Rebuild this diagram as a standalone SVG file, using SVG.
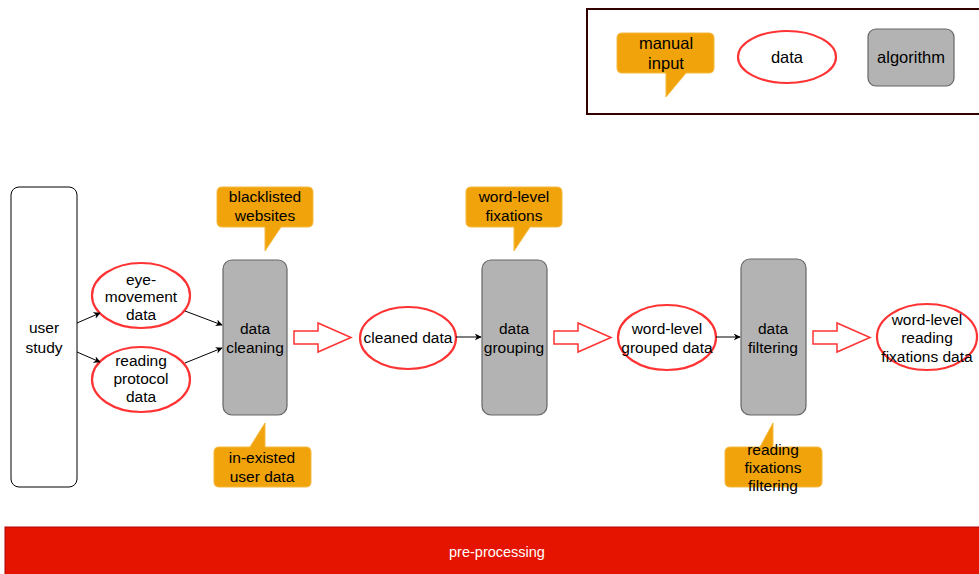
<svg xmlns="http://www.w3.org/2000/svg" width="979" height="574" viewBox="0 0 979 574">
<defs>
<style>
text{font-family:"Liberation Sans",Arial,sans-serif;font-size:15.5px;fill:#000;text-anchor:middle}
.lg{font-size:16.5px}
.data{fill:#fff;stroke:#FF3333;stroke-width:2.2}
.alg{fill:#B3B3B3;stroke:#666;stroke-width:1.2}
.call{fill:#F0A30A;stroke:#F5B940;stroke-width:1}
.conn{stroke:#000;stroke-width:1;fill:none}
.big{fill:#fff;stroke:#FF3333;stroke-width:1.5}
</style>
<marker id="ah" viewBox="0 0 10 10" refX="9" refY="5" markerWidth="7" markerHeight="7" orient="auto" markerUnits="userSpaceOnUse">
<path d="M0,0 L10,5 L0,10 L3,5 Z" fill="#000"/>
</marker>
</defs>
<rect width="979" height="574" fill="#fff"/>

<g id="legend">
<rect x="587" y="9" width="396" height="105" fill="#fff" stroke="#330000" stroke-width="2"/>
<path class="call" d="M622,33 H709 Q714,33 714,38 V68 Q714,73 709,73 H686 L666,97 V73 H622 Q617,73 617,68 V38 Q617,33 622,33 Z"/>
<text class="lg" x="666" y="49">manual</text>
<text class="lg" x="666" y="69">input</text>
<ellipse class="data" cx="787" cy="57" rx="49" ry="26"/>
<text class="lg" x="787" y="63">data</text>
<rect class="alg" x="868" y="29" width="86" height="57" rx="8"/>
<text class="lg" x="911" y="63">algorithm</text>
</g>

<g id="user-study">
<rect x="11" y="187" width="66" height="300" rx="8" fill="#fff" stroke="#000" stroke-width="1"/>
<text x="44" y="333">user</text>
<text x="44" y="353">study</text>
</g>

<g id="eye-movement-data">
<ellipse class="data" cx="141" cy="295.5" rx="49" ry="32.5"/>
<text x="141" y="285">eye-</text>
<text x="141" y="302">movement</text>
<text x="141" y="320">data</text>
</g>

<g id="reading-protocol-data">
<ellipse class="data" cx="141" cy="379.5" rx="49" ry="32.5"/>
<text x="141" y="366">reading</text>
<text x="141" y="384">protocol</text>
<text x="141" y="402">data</text>
</g>

<g id="blacklisted-websites">
<path class="call" d="M222,187 H308 Q313,187 313,192 V222 Q313,227 308,227 H281 L265,251 V227 H222 Q217,227 217,222 V192 Q217,187 222,187 Z"/>
<text x="265" y="202">blacklisted</text>
<text x="265" y="221">websites</text>
</g>

<g id="data-cleaning">
<rect class="alg" x="223" y="260" width="64" height="155" rx="9"/>
<text x="255" y="334">data</text>
<text x="255" y="353">cleaning</text>
</g>

<g id="in-existed-user-data">
<path class="call" d="M219,447 H250 L265,423 V447 H306 Q311,447 311,452 V482 Q311,487 306,487 H219 Q214,487 214,482 V452 Q214,447 219,447 Z"/>
<text x="262" y="463">in-existed</text>
<text x="262" y="482">user data</text>
</g>

<g id="cleaned-data">
<ellipse class="data" cx="408" cy="338" rx="48" ry="31"/>
<text x="408" y="343">cleaned data</text>
</g>

<g id="word-level-fixations">
<path class="call" d="M471,187 H557 Q562,187 562,192 V222 Q562,227 557,227 H530 L514,251 V227 H471 Q466,227 466,222 V192 Q466,187 471,187 Z"/>
<text x="514" y="202">word-level</text>
<text x="514" y="221">fixations</text>
</g>

<g id="data-grouping">
<rect class="alg" x="482" y="260" width="65" height="155" rx="9"/>
<text x="514" y="334">data</text>
<text x="514" y="353">grouping</text>
</g>

<g id="word-level-grouped-data">
<ellipse class="data" cx="667" cy="337.5" rx="49" ry="32.5"/>
<text x="667" y="334">word-level</text>
<text x="667" y="353">grouped data</text>
</g>

<g id="data-filtering">
<rect class="alg" x="741" y="259" width="65" height="156" rx="9"/>
<text x="773" y="334">data</text>
<text x="773" y="353">filtering</text>
</g>

<g id="reading-fixations-filtering">
<path class="call" d="M730,447 H760 L773,423 V447 H817 Q822,447 822,452 V482 Q822,487 817,487 H730 Q725,487 725,482 V452 Q725,447 730,447 Z"/>
<text x="773" y="455">reading</text>
<text x="773" y="473">fixations</text>
<text x="773" y="491">filtering</text>
</g>

<g id="word-level-reading-fixations-data">
<ellipse class="data" cx="927" cy="337" rx="50" ry="33"/>
<text x="927" y="325">word-level</text>
<text x="927" y="343">reading</text>
<text x="927" y="362">fixations data</text>
</g>

<g id="pre-processing">
<rect x="5" y="527" width="980" height="52" fill="#E51400" stroke="#B20000" stroke-width="1"/>
<text x="497" y="557" style="fill:#fff;font-size:14.5px">pre-processing</text>
</g>

<g id="connectors">
<line class="conn" x1="77" y1="323" x2="100" y2="313" marker-end="url(#ah)"/>
<line class="conn" x1="77" y1="352" x2="100" y2="362" marker-end="url(#ah)"/>
<line class="conn" x1="185" y1="311" x2="222" y2="325" marker-end="url(#ah)"/>
<line class="conn" x1="185" y1="363" x2="222" y2="348" marker-end="url(#ah)"/>
<line class="conn" x1="456" y1="337" x2="481" y2="337" marker-end="url(#ah)"/>
<line class="conn" x1="716" y1="337" x2="740" y2="337" marker-end="url(#ah)"/>
<path class="big" d="M294,331 H318 V323 L351,337.5 L318,352 V344 H294 Z"/>
<path class="big" d="M554,331 H578 V323 L611,337.5 L578,352 V344 H554 Z"/>
<path class="big" d="M813,331 H837 V323 L870,337.5 L837,352 V344 H813 Z"/>
</g>
</svg>
